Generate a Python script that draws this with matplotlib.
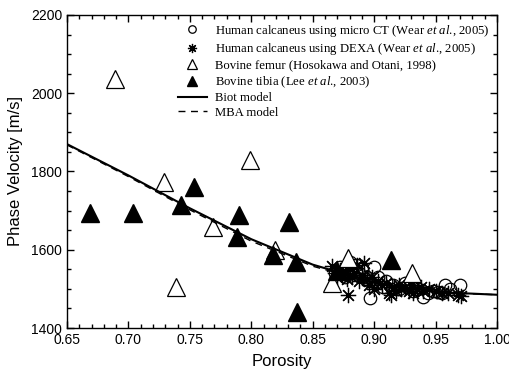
import matplotlib
matplotlib.use("Agg")
import matplotlib.pyplot as plt
from matplotlib.ticker import MultipleLocator

plt.rcParams['mathtext.fontset'] = 'custom'
plt.rcParams['mathtext.rm'] = 'Liberation Serif'
plt.rcParams['mathtext.it'] = 'Liberation Serif:italic'

# Human calcaneus micro CT (open circles)
ct_p = [0.868, 0.872, 0.876, 0.878, 0.880, 0.882, 0.885, 0.888, 0.890, 0.893,
        0.896, 0.897, 0.900, 0.903, 0.907, 0.910, 0.915, 0.920, 0.925, 0.928,
        0.932, 0.936, 0.940, 0.944, 0.948, 0.952, 0.955, 0.958, 0.962, 0.970]
ct_v = [1540, 1555, 1530, 1548, 1569, 1545, 1560, 1540, 1553, 1530,
        1520, 1477, 1555, 1530, 1506, 1520, 1510, 1500, 1515, 1505,
        1495, 1500, 1480, 1490, 1495, 1493, 1490, 1510, 1500, 1510]

# Human calcaneus DEXA (asterisks)
dexa_p = [0.866, 0.868, 0.870, 0.872, 0.874, 0.876, 0.878, 0.879, 0.880, 0.882,
          0.884, 0.886, 0.888, 0.890, 0.892, 0.894, 0.896, 0.898, 0.900, 0.903,
          0.906, 0.910, 0.912, 0.914, 0.916, 0.918, 0.920, 0.922, 0.925, 0.928,
          0.930, 0.932, 0.935, 0.938, 0.940, 0.945, 0.950, 0.955, 0.960, 0.968, 0.971]
dexa_v = [1558, 1540, 1530, 1548, 1535, 1545, 1525, 1484, 1552, 1530,
          1540, 1560, 1520, 1535, 1565, 1525, 1510, 1530, 1500, 1520,
          1510, 1515, 1490, 1484, 1505, 1495, 1510, 1500, 1505, 1495,
          1510, 1490, 1500, 1505, 1495, 1500, 1495, 1490, 1490, 1485, 1482]

# Bovine femur (open triangles)
femur_p = [0.689, 0.729, 0.739, 0.769, 0.799, 0.819, 0.866, 0.879, 0.931]
femur_v = [2036, 1774, 1506, 1659, 1829, 1599, 1515, 1578, 1540]

# Bovine tibia (filled triangles)
tibia_p = [0.669, 0.704, 0.743, 0.753, 0.788, 0.790, 0.818, 0.831, 0.836, 0.837, 0.870, 0.914]
tibia_v = [1693, 1693, 1714, 1761, 1633, 1690, 1587, 1672, 1569, 1440, 1545, 1574]

# Models
model_p = [0.65, 0.70, 0.75, 0.80, 0.85, 0.90, 0.95, 1.00]
biot_v = [1870, 1790, 1706, 1627, 1562, 1516, 1492, 1485]
mba_v = [1868, 1787, 1702, 1622, 1558, 1514, 1491, 1485]

fig = plt.figure(figsize=(5.09, 3.70), dpi=100)
ax = fig.add_axes([0.1316, 0.1135, 0.8448, 0.846])

ax.plot(ct_p, ct_v, linestyle='none', marker='o', markersize=9,
        markerfacecolor='none', markeredgecolor='black', markeredgewidth=0.9,
        label='Human calcaneus using micro CT (Wear $\\mathit{et\\ al}$., 2005)')
ax.plot(dexa_p, dexa_v, linestyle='none', marker=(8, 2, 0), markersize=11,
        color='black', markeredgewidth=0.9,
        label='Human calcaneus using DEXA (Wear $\\mathit{et\\ al}$., 2005)')
ax.plot(femur_p, femur_v, linestyle='none', marker='^', markersize=13,
        markerfacecolor='white', markeredgecolor='black', markeredgewidth=0.9,
        label='Bovine femur (Hosokawa and Otani, 1998)')
ax.plot(tibia_p, tibia_v, linestyle='none', marker='^', markersize=13,
        color='black', label='Bovine tibia (Lee $\\mathit{et\\ al}$., 2003)')
ax.plot(model_p, biot_v, color='black', linewidth=1.5, label='Biot model')
ax.plot(model_p, mba_v, color='black', linewidth=1.0, linestyle=(0, (5, 4)),
        label='MBA model')

ax.set_xlim(0.65, 1.00)
ax.set_ylim(1400, 2200)
ax.xaxis.set_major_locator(MultipleLocator(0.05))
ax.xaxis.set_minor_locator(MultipleLocator(0.01))
ax.yaxis.set_major_locator(MultipleLocator(200))
ax.yaxis.set_minor_locator(MultipleLocator(50))
ax.tick_params(which='both', direction='in', top=True, right=True,
               labelsize=10, width=1)
ax.tick_params(which='major', length=5)
ax.tick_params(which='minor', length=3)
ax.set_xticklabels([f"{t:.2f}" for t in ax.get_xticks()], fontfamily='Liberation Sans')
ax.set_yticklabels([f"{int(t)}" for t in ax.get_yticks()], fontfamily='Liberation Sans')
for s in ax.spines.values():
    s.set_linewidth(1.0)

ax.set_xlabel('Porosity', fontfamily='Liberation Sans', fontsize=12, labelpad=5)
ax.set_ylabel('Phase Velocity [m/s]', fontfamily='Liberation Sans', fontsize=12, labelpad=6)

leg = ax.legend(loc='upper right', frameon=False,
                prop={'family': 'Liberation Serif', 'size': 9.2},
                handlelength=2.3, handletextpad=0.6, labelspacing=0.2,
                borderaxespad=0.2, markerscale=0.6)

fig.savefig('out.png', dpi=100)
